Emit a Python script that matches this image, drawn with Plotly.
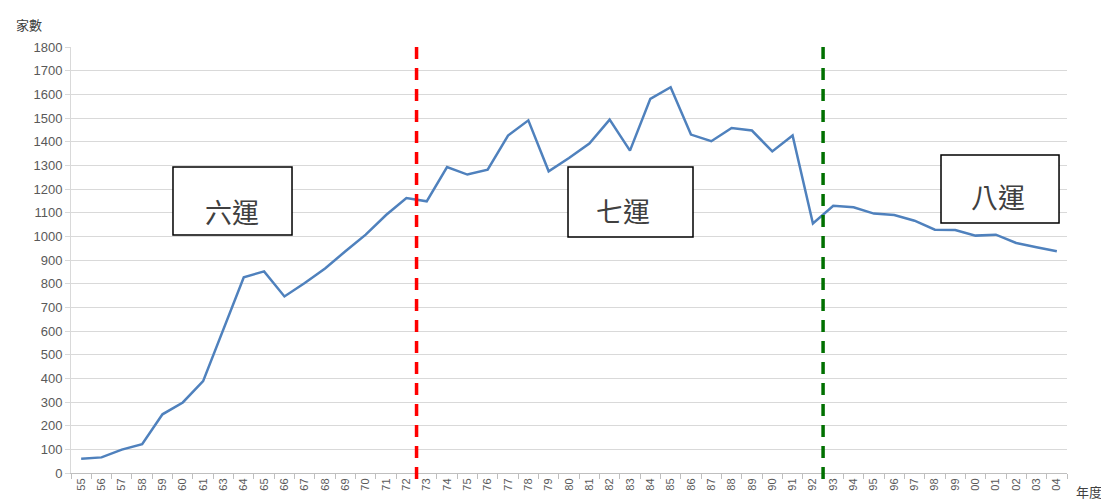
import plotly.graph_objects as go

years = ["55", "56", "57", "58", "59", "60", "61", "63", "64", "65", "66", "67", "68",
         "69", "70", "71", "72", "73", "74", "75", "76", "77", "78", "79", "80", "81",
         "82", "83", "84", "85", "86", "87", "88", "89", "90", "91", "92", "93", "94",
         "95", "96", "97", "98", "99", "00", "01", "02", "03", "04"]
counts = [60, 66, 99, 122, 248, 298, 388, 606, 827, 852, 746, 803, 864,
          937, 1007, 1090, 1162, 1148, 1293, 1261, 1282, 1426, 1490, 1275, 1331, 1392,
          1493, 1362, 1581, 1630, 1430, 1402, 1458, 1447, 1359, 1426, 1054, 1129, 1123,
          1096, 1090, 1066, 1028, 1027, 1003, 1007, 972, 954, 937]
y_ticks = list(range(0, 1801, 100))

period_labels = ["六運", "七運", "八運"]
period_breaks = ["72", "92"]      # boundaries after these years
break_colors = ["#ff0000", "#007000"]

fig = go.Figure()
fig.add_trace(go.Scatter(x=years, y=counts, mode="lines",
                         line=dict(color="#4f81bd", width=2.5), showlegend=False,
                         hoverinfo="x+y"))

# vertical dashed boundaries between periods
for yr, col in zip(period_breaks, break_colors):
    xi = years.index(yr) + 0.5
    fig.add_shape(type="line", xref="x", yref="paper", x0=xi, x1=xi, y0=-0.014, y1=1.005,
                  line=dict(color=col, width=3.5, dash="12px,9px"))

# boxed period labels
boxes = [(0.1024, 0.2219, 0.5587, 0.7183, 0.1616, 0.615),
         (0.4990, 0.6245, 0.5540, 0.7183, 0.5540, 0.617),
         (0.8735, 0.9920, 0.5869, 0.7465, 0.9307, 0.650)]
for label, (x0, x1, y0, y1, tx, ty) in zip(period_labels, boxes):
    fig.add_shape(type="rect", xref="paper", yref="paper", x0=x0, x1=x1, y0=y0, y1=y1,
                  line=dict(color="#000000", width=1.5), fillcolor="white", layer="above")
    fig.add_annotation(xref="paper", yref="paper", x=tx, y=ty, xanchor="center",
                       yanchor="middle", text=label, showarrow=False,
                       font=dict(size=27, color="#404040", family="Noto Sans CJK TC"))

fig.add_annotation(xref="paper", yref="paper", x=-0.042, y=1.052, xanchor="center",
                   yanchor="middle", text="家數", showarrow=False,
                   font=dict(size=13, color="#404040", family="Noto Sans CJK TC"))
fig.add_annotation(xref="paper", yref="paper", x=1.022, y=-0.043, xanchor="center",
                   yanchor="middle", text="年度", showarrow=False,
                   font=dict(size=13, color="#404040", family="Noto Sans CJK TC"))

# the page body has an 8px margin, so the figure is offset by 8px
fig.update_layout(
    width=1101, height=494,
    margin=dict(l=63, r=42, t=39, b=29),
    paper_bgcolor="white", plot_bgcolor="white",
    font=dict(family="Liberation Sans, Arial, sans-serif", color="#595959"),
    xaxis=dict(type="category", categoryorder="array", categoryarray=years,
               range=[-0.5, len(years) - 0.5], tickangle=-90,
               tickson="boundaries", ticks="outside", ticklen=5, tickcolor="#bfbfbf",
               showline=True, linecolor="#bfbfbf", linewidth=1, showgrid=False,
               tickfont=dict(size=11, color="#595959")),
    yaxis=dict(range=[0, 1800], tickvals=y_ticks, showgrid=True, gridcolor="#d9d9d9",
               gridwidth=1, showline=True, linecolor="#d9d9d9", ticks="outside", ticklen=5,
               tickcolor="#d9d9d9", zeroline=False,
               tickfont=dict(size=13, color="#595959")),
)

fig.write_html("out.html")
